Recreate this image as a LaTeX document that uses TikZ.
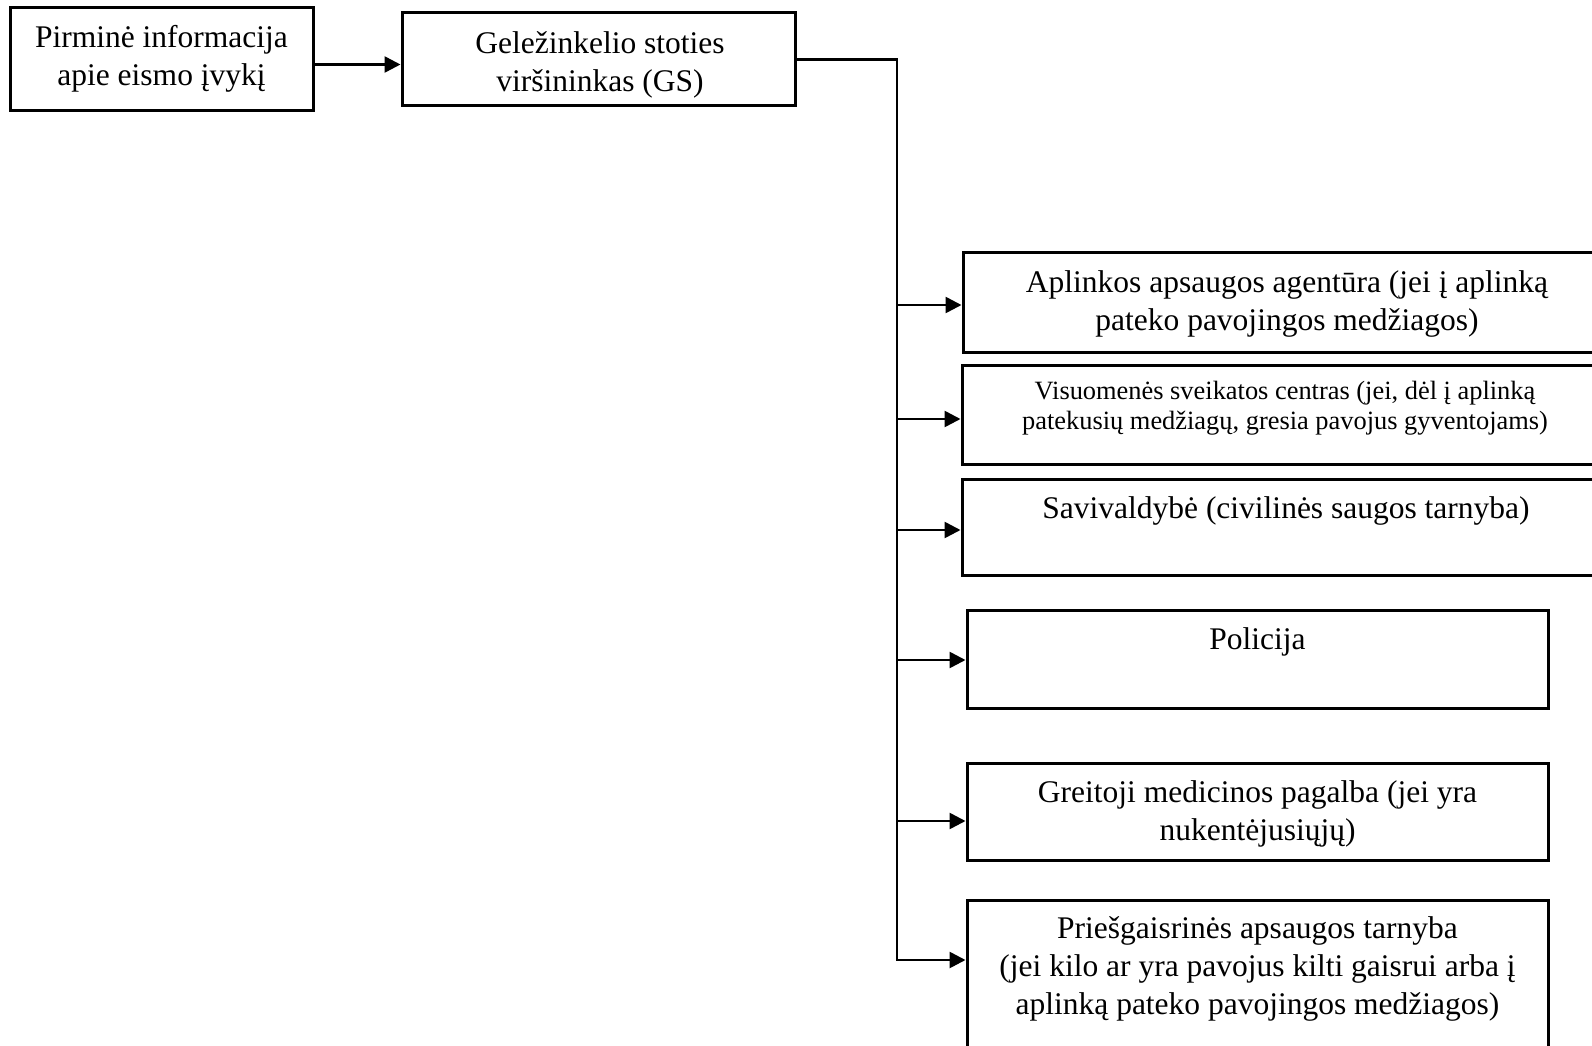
\documentclass[tikz,border=0pt]{standalone}
\usepackage{fontspec}
\setmainfont{Liberation Serif}
\usetikzlibrary{arrows.meta,positioning}
\tikzset{
  box/.style={draw, line width=3pt, rectangle, inner sep=0pt, align=center},
  bigtxt/.style={font=\fontsize{31.5pt}{38pt}\selectfont, align=center},
  smalltxt/.style={font=\fontsize{26.4pt}{30.5pt}\selectfont, align=center},
  wire/.style={line width=2.6pt},
  arr/.style={line width=2.6pt, -{Triangle[length=16pt,width=16pt]}}
}
\begin{document}
\begin{tikzpicture}[x=1pt,y=-1pt]
\useasboundingbox (0,0) rectangle (1592,1046);
% top row
\node[box, minimum width=303pt, minimum height=103pt] (info) at (161.5,59.5) {};
\node[box, minimum width=393pt, minimum height=93pt] (gs) at (598.5,59.5) {};
\node[bigtxt] (info-t) at (161.5,59) {Pirminė informacija\\apie eismo įvykį};
\node[bigtxt] (gs-t) at (600,65) {Geležinkelio stoties\\viršininkas (GS)};
\draw[arr] ([yshift=-5pt]info.east) -- ([yshift=-5pt]gs.west);
% boxes on the right
\node[box, minimum width=648pt, minimum height=100pt] (apl) at (1287,302) {};
\node[box, minimum width=648pt, minimum height=99pt] (vsc) at (1286,414.5) {};
\node[box, minimum width=648pt, minimum height=96pt] (sav) at (1286,527) {};
\node[box, minimum width=581pt, minimum height=98pt] (pol) at (1257.5,659) {};
\node[box, minimum width=581pt, minimum height=97pt] (gmp) at (1257.5,811.5) {};
\node[box, minimum width=581pt, minimum height=162pt] (pgt) at (1257.5,981) {};
% texts in the boxes
\node[bigtxt] (apl-t) at (1287,304) {Aplinkos apsaugos agentūra (jei į aplinką\\pateko pavojingos medžiagos)};
\node[smalltxt] (vsc-t) at (1285,408) {Visuomenės sveikatos centras (jei, dėl į aplinką\\patekusių medžiagų, gresia pavojus gyventojams)};
\node[bigtxt] (sav-t) at (1286,511) {Savivaldybė (civilinės saugos tarnyba)};
\node[bigtxt] (pol-t) at (1257.5,642) {Policija};
\node[bigtxt] (gmp-t) at (1257.5,813.5) {Greitoji medicinos pagalba (jei yra\\nukentėjusiųjų)};
\node[bigtxt] (pgt-t) at (1257.5,969) {Priešgaisrinės apsaugos tarnyba\\(jei kilo ar yra pavojus kilti gaisrui arba į\\aplinką pateko pavojingos medžiagos)};
% vertical line and arrows
\coordinate (bpgt) at (897,960);
\draw[arr] (gs.east) -| (bpgt) -- (pgt.west |- bpgt);
\foreach \n/\y in {apl/305,vsc/419,sav/530,pol/660,gmp/821}
{
\coordinate (b\n) at (897,\y);
\draw[arr] (b\n) -- (\n.west |- b\n);
}
\end{tikzpicture}
\end{document}
